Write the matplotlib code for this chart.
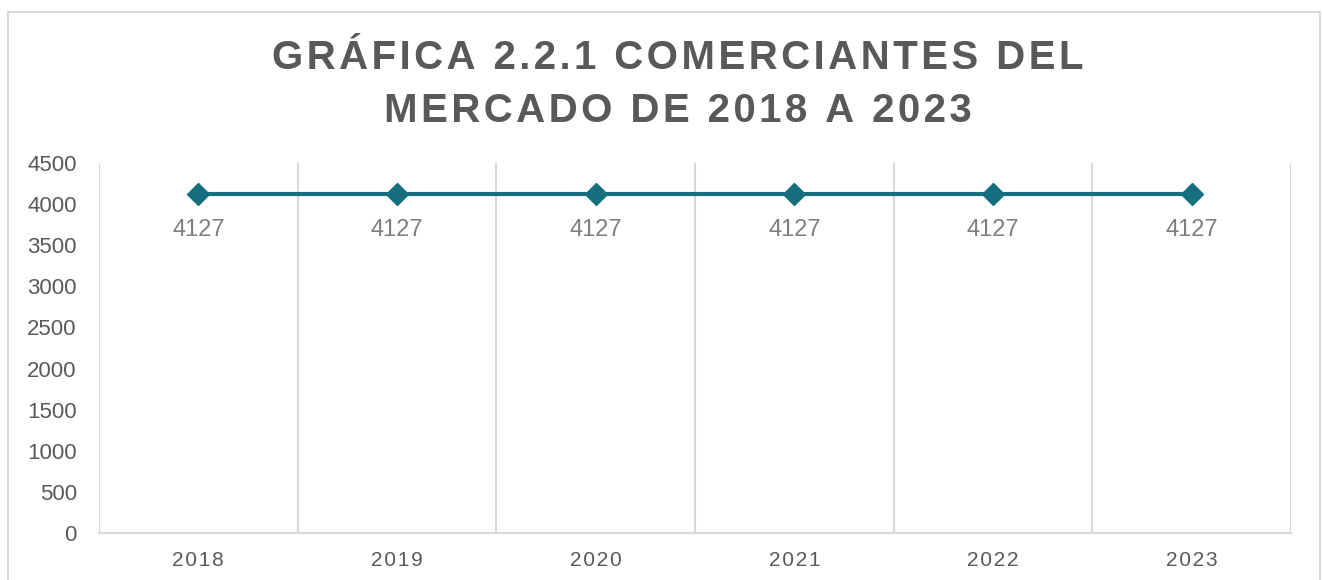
import matplotlib.pyplot as plt
from matplotlib.patches import Rectangle

plt.rcParams['font.family'] = ['Liberation Sans', 'DejaVu Sans']

years = ['2018', '2019', '2020', '2021', '2022', '2023']
comerciantes = [4127, 4127, 4127, 4127, 4127, 4127]
yticks = [0, 500, 1000, 1500, 2000, 2500, 3000, 3500, 4000, 4500]

line_color = '#156f7f'
grid_color = '#d9d9d9'
text_color = '#595959'


def spaced(s, sep='\u200a'):
    return sep.join(s)


fig = plt.figure(figsize=(13.22, 5.80), dpi=100)
fig.patches.append(Rectangle((8 / 1322, -0.1), 1312 / 1322, (580 - 12) / 580 + 0.1,
                             transform=fig.transFigure, fill=False,
                             edgecolor=grid_color, linewidth=1.5))

ax = fig.add_axes([99 / 1322, 47 / 580, (1291 - 99) / 1322, (533 - 163) / 580])

x = [i + 0.5 for i in range(len(years))]
ax.plot(x, comerciantes, color=line_color, linewidth=3, marker='D',
        markersize=11, markerfacecolor=line_color, markeredgecolor=line_color,
        solid_capstyle='butt', zorder=3)

for xi, v in zip(x, comerciantes):
    ax.annotate(str(v), (xi, v), xytext=(0, -26), textcoords='offset points',
                ha='center', va='center', fontsize=17, color='#7f7f7f')

ax.set_xlim(0, len(years))
ax.set_ylim(0, 4500)
ax.set_yticks(yticks)
ax.set_yticklabels([str(t) for t in yticks], fontsize=16, color=text_color)
ax.set_xticks(x)
ax.set_xticklabels([spaced(y) for y in years], fontsize=15, color=text_color)
ax.tick_params(axis='both', length=0)
ax.tick_params(axis='y', pad=16)
ax.tick_params(axis='x', pad=13)

for i in range(len(years) + 1):
    ax.axvline(i, color=grid_color, linewidth=1.5, zorder=1)

for side in ['top', 'right', 'left']:
    ax.spines[side].set_visible(False)
ax.spines['bottom'].set_color(grid_color)
ax.spines['bottom'].set_linewidth(1.5)

fig.text(0.513, 0.9, spaced('GRÁFICA 2.2.1 COMERCIANTES DEL'),
         ha='center', va='center', fontsize=29, fontweight='bold', color=text_color)
fig.text(0.513, 0.808, spaced('MERCADO DE 2018 A 2023'),
         ha='center', va='center', fontsize=29, fontweight='bold', color=text_color)

fig.savefig('out.png', dpi=100)
